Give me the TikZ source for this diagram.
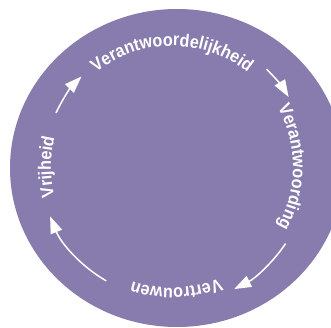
\documentclass[tikz,border=0pt]{standalone}
\usepackage{fontspec}
\setmainfont{Liberation Sans}
\newfontfamily\lblfont[FakeStretch=0.9]{Liberation Sans}
\usetikzlibrary{decorations.text,arrows.meta}
\definecolor{circ}{RGB}{135,124,173}
\begin{document}
\begin{tikzpicture}[x=1pt,y=1pt,
  lbl/.style={decorate, decoration={text along path, text align=center, text color=white,
     text={|\lblfont\fontsize{18}{18}\selectfont\bfseries|#1}}},
  cyc/.style={white, line width=1.5pt, -{Triangle[length=17pt,width=12pt]}}]
\useasboundingbox (0,0) rectangle (331,327);
\begin{scope}
\clip (0,0) rectangle (331,327);
\fill[circ] (177,159) ellipse [x radius=167, y radius=159];
\end{scope}
\coordinate (c) at (172,160);
% labels
\path[lbl=Verantwoordelijkheid] ([shift={(140:121)}]c) arc[start angle=140, end angle=40, radius=121];
\path[lbl=Verantwoording] ([shift={(45:121)}]c) arc[start angle=45, end angle=-45, radius=121];
\path[lbl=Vertrouwen] ([shift={(-43:121)}]c) arc[start angle=-43, end angle=-133, radius=121];
\path[lbl=Vrijheid] ([shift={(225:121)}]c) arc[start angle=225, end angle=135, radius=121];
% arrows
\draw[cyc] ([shift={(155:128)}]c) arc[start angle=155, end angle=135, radius=128];
\draw[cyc] ([shift={(46:136)}]c) arc[start angle=46, end angle=31, radius=136];
\draw[cyc] ([shift={(-34:137)}]c) arc[start angle=-34, end angle=-63, radius=137];
\draw[cyc] ([shift={(240:131.5)}]c) arc[start angle=240, end angle=202, radius=131.5];
\end{tikzpicture}
\end{document}
